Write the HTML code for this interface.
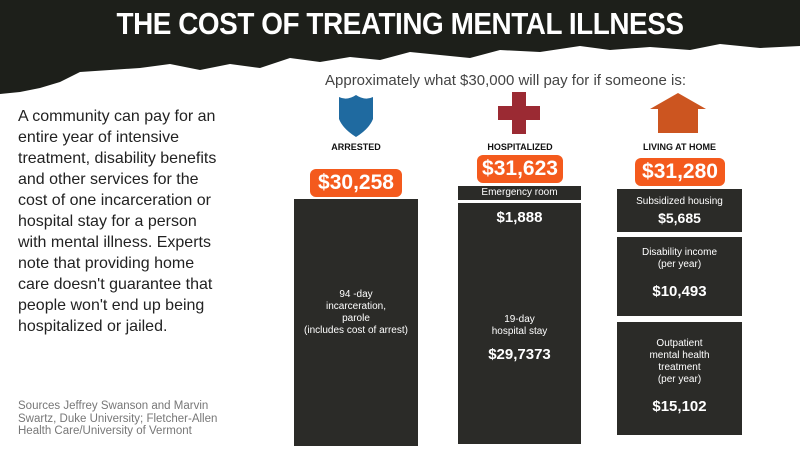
<!DOCTYPE html>
<html><head><style>
body{margin:0;width:800px;height:450px;background:#fff;position:relative;overflow:hidden;font-family:"Liberation Sans",sans-serif}
.a{position:absolute}
.box{position:absolute;background:#2b2b28;color:#fff;text-align:center;font-weight:bold}
.pill{position:absolute;background:#f45a1d;color:#fff;font-weight:bold;font-size:21px;border-radius:6px;text-align:center;line-height:28px}
.lab{position:absolute;font-weight:bold;font-size:9px;color:#111;text-align:center}
</style></head><body>
<svg class="a" style="left:0;top:0" width="800" height="100">
<polygon fill="#1d1f1a" points="0,0 800,0 800,46 760,48 720,44 690,50 650,47 610,50 580,46 540,52 500,50 470,58 440,55 410,52 380,60 350,57 320,62 290,58 260,68 230,64 200,70 170,64 140,68 110,70 80,72 60,82 40,88 20,92 0,94"/>
</svg>
<div class="a" style="left:0;width:800px;top:6px;text-align:center;color:#fff;font-weight:bold;font-size:31px;letter-spacing:-0.5px;transform:scaleX(0.9)">THE COST OF TREATING MENTAL ILLNESS</div>
<div class="a" style="left:325px;top:72px;font-size:15px;color:#444">Approximately what $30,000 will pay for if someone is:</div>
<div class="a" style="left:18px;top:106px;font-size:16px;line-height:21px;color:#222;white-space:nowrap">A community can pay for an<br>entire year of intensive<br>treatment, disability benefits<br>and other services for the<br>cost of one incarceration or<br>hospital stay for a person<br>with mental illness. Experts<br>note that providing home<br>care doesn't guarantee that<br>people won't end up being<br>hospitalized or jailed.</div>
<div class="a" style="left:18px;top:400px;font-size:11.5px;line-height:12.5px;color:#777;white-space:nowrap">Sources Jeffrey Swanson and Marvin<br>Swartz, Duke University; Fletcher-Allen<br>Health Care/University of Vermont</div>
<svg class="a" style="left:335px;top:93px" width="42" height="45"><path d="M4,4 Q12,8 21,2 Q30,8 38,4 L38,26 Q34,36 21,44 Q8,36 4,26Z" fill="#1f6aa0"/></svg>
<svg class="a" style="left:498px;top:92px" width="42" height="42"><path d="M14,0H28V14H42V28H28V42H14V28H0V14H14Z" fill="#9b2a33"/></svg>
<svg class="a" style="left:650px;top:93px" width="56" height="40"><path d="M28,0 L56,16 L48,16 L48,40 L8,40 L8,16 L0,16Z" fill="#cc5520"/></svg>
<div class="lab" style="left:296px;top:142px;width:120px">ARRESTED</div>
<div class="lab" style="left:458px;top:142px;width:124px">HOSPITALIZED</div>
<div class="lab" style="left:617px;top:142px;width:125px">LIVING AT HOME</div>
<div class="pill" style="left:310px;top:169px;width:92px">$30,258</div>
<div class="pill" style="left:477px;top:155px;width:86px">$31,623</div>
<div class="pill" style="left:635px;top:158px;width:90px">$31,280</div>
<div class="box" style="left:294px;top:199px;width:124px;height:247px"><div style="margin-top:90px;font-size:10px;font-weight:normal;line-height:12px">94 -day<br>incarceration,<br>parole<br>(includes cost of arrest)</div></div>
<div class="box" style="left:458px;top:186px;width:123px;height:14px;font-size:10px;font-weight:normal;line-height:14px">Emergency room</div>
<div class="box" style="left:458px;top:203px;width:123px;height:241px"><div style="margin-top:6px;font-size:15px">$1,888</div><div style="margin-top:88px;font-size:10px;font-weight:normal;line-height:12px">19-day<br>hospital stay</div><div style="margin-top:8px;font-size:15px">$29,7373</div></div>
<div class="box" style="left:617px;top:189px;width:125px;height:43px"><div style="margin-top:7px;font-size:10px;font-weight:normal">Subsidized housing</div><div style="margin-top:3px;font-size:14px">$5,685</div></div>
<div class="box" style="left:617px;top:237px;width:125px;height:79px"><div style="margin-top:10px;font-size:10px;font-weight:normal;line-height:12px">Disability income<br>(per year)</div><div style="margin-top:12px;font-size:15px">$10,493</div></div>
<div class="box" style="left:617px;top:322px;width:125px;height:113px"><div style="margin-top:16px;font-size:10px;font-weight:normal;line-height:12px">Outpatient<br>mental health<br>treatment<br>(per year)</div><div style="margin-top:12px;font-size:15px">$15,102</div></div>
</body></html>
